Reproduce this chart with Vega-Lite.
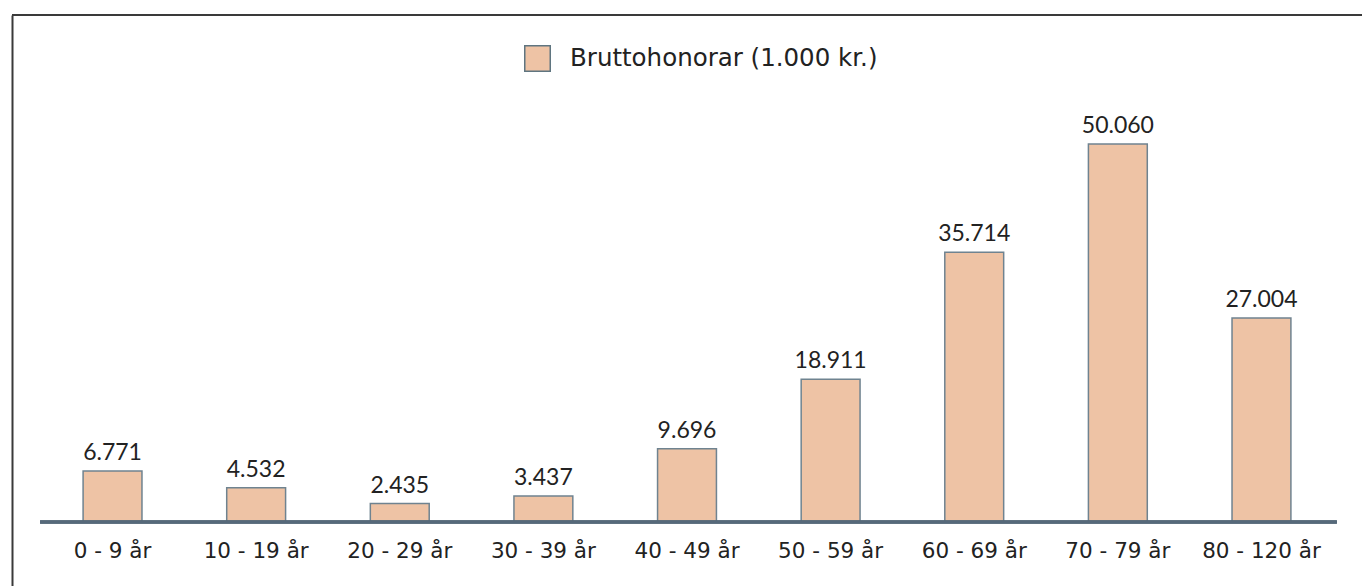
{
  "$schema": "https://vega.github.io/schema/vega-lite/v6.json",
  "autosize": {"type": "none"},
  "padding": {"left": 12, "top": 15, "right": 0, "bottom": 0},
  "width": 1350,
  "height": 571,
  "background": "#ffffff",
  "config": {
    "view": {"stroke": null},
    "font": "DejaVu Sans",
    "locale": {"number": {"decimal": ",", "thousands": ".", "grouping": [3], "currency": ["", ""]}}
  },
  "data": {
    "values": [
      {"alder": "0 - 9 år", "honorar": 6771},
      {"alder": "10 - 19 år", "honorar": 4532},
      {"alder": "20 - 29 år", "honorar": 2435},
      {"alder": "30 - 39 år", "honorar": 3437},
      {"alder": "40 - 49 år", "honorar": 9696},
      {"alder": "50 - 59 år", "honorar": 18911},
      {"alder": "60 - 69 år", "honorar": 35714},
      {"alder": "70 - 79 år", "honorar": 50060},
      {"alder": "80 - 120 år", "honorar": 27004}
    ]
  },
  "encoding": {
    "x": {
      "field": "alder", "type": "nominal", "sort": null,
      "scale": {"paddingInner": 0.59, "paddingOuter": 0.495},
      "axis": null
    }
  },
  "layer": [
    {
      "mark": {"type": "rule", "stroke": "#3a3a3a", "strokeWidth": 2},
      "encoding": {"x": null, "y": {"datum": 67152, "type": "quantitative"}}
    },
    {
      "mark": {"type": "bar", "stroke": "#6f8390", "strokeWidth": 1.5},
      "encoding": {
        "y": {
          "field": "honorar", "type": "quantitative",
          "scale": {"domain": [-8477, 67152], "nice": false, "zero": false},
          "axis": {"orient": "left", "labels": false, "ticks": false, "grid": false, "title": null, "domainColor": "#3a3a3a", "domainWidth": 2}
        },
        "color": {
          "datum": "Bruttohonorar (1.000 kr.)",
          "scale": {"range": ["#EEC3A5"]},
          "legend": {
            "title": null,
            "orient": "none",
            "legendX": 512,
            "legendY": 30,
            "symbolType": "square",
            "symbolSize": 650,
            "symbolStrokeColor": "#5f7580",
            "symbolStrokeWidth": 1.5,
            "symbolOpacity": 1,
            "labelFontSize": 24.5,
            "labelColor": "#222222",
            "labelOffset": 19,
            "labelLimit": 0,
            "labelFont": "DejaVu Sans"
          }
        }
      }
    },
    {
      "mark": {"type": "rule", "stroke": "#56697a", "strokeWidth": 2.5},
      "encoding": {
        "x": {"datum": "0 - 9 år", "type": "nominal", "bandPosition": -0.73},
        "x2": {"datum": "80 - 120 år", "bandPosition": 1.78},
        "y": {"datum": 0, "type": "quantitative"}
      }
    },
    {
      "mark": {"type": "text", "font": "Lato", "fontSize": 23, "color": "#222222", "baseline": "alphabetic", "dy": -11},
      "encoding": {
        "y": {"field": "honorar", "type": "quantitative"},
        "text": {"field": "honorar", "type": "quantitative", "format": ",d"}
      }
    },
    {
      "mark": {"type": "text", "fontSize": 21.5, "color": "#222222", "baseline": "middle"},
      "encoding": {
        "y": {"datum": -3950, "type": "quantitative"},
        "text": {"field": "alder", "type": "nominal"}
      }
    }
  ]
}
